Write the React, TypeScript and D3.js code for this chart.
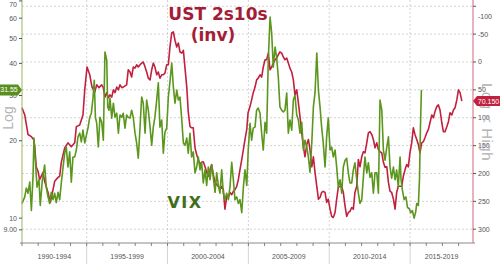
import React from 'react';
import * as d3 from 'd3';

// ---------------- DATA ----------------
// UST 2s10s spread (bp), plotted on an inverted right axis
const ust2s10s: [number, number][] = [
  [1991.00,82],[1991.17,95],[1991.37,130],[1991.58,134],[1991.72,139],[1991.79,152],[1991.88,188],[1991.99,196],[1992.09,211],[1992.30,198],[1992.40,214],[1992.61,234],[1992.75,252],[1992.92,229],[1993.02,214],[1993.23,207],[1993.33,205],[1993.43,180],[1993.64,154],[1993.84,145],[1994.05,152],[1994.26,145],[1994.36,116],[1994.57,113],[1994.77,95],[1994.88,50],[1995.02,9],[1995.19,23],[1995.33,45],[1995.50,54],
  [1995.62,41],[1995.76,46],[1995.93,41],[1996.03,46],[1996.13,63],[1996.24,55],[1996.34,64],[1996.44,59],[1996.55,63],[1996.65,50],[1996.75,55],[1996.86,45],[1996.96,50],[1997.06,41],[1997.17,46],[1997.26,45],[1997.47,41],[1997.57,14],[1997.68,18],[1997.78,27],[1997.88,9],[1997.99,11],[1998.09,5],[1998.19,9],[1998.30,5],[1998.40,2],[1998.50,0],[1998.61,9],[1998.71,18],[1998.81,29],[1998.92,32],[1999.02,14],[1999.12,2],[1999.22,9],[1999.33,23],[1999.43,18],[1999.53,29],[1999.64,23],[1999.74,23],[1999.84,20],[1999.95,5],[2000.05,5],[2000.15,-27],[2000.26,-52],[2000.36,-54],[2000.46,-39],
  [2000.57,-27],[2000.67,-34],[2000.77,-18],[2000.88,-16],[2000.98,-21],[2001.08,11],[2001.19,45],[2001.28,89],[2001.39,116],[2001.49,118],[2001.59,118],[2001.70,154],[2001.80,166],[2001.90,175],[2002.01,184],[2002.11,180],[2002.21,179],[2002.32,188],[2002.42,198],[2002.52,205],[2002.63,193],[2002.73,184],[2002.83,202],[2002.94,216],[2003.04,220],[2003.14,223],[2003.24,229],[2003.35,223],[2003.45,229],[2003.55,264],[2003.66,241],[2003.76,243],[2003.86,234],[2003.97,238],[2004.07,232],[2004.17,229],[2004.28,223],[2004.38,211],[2004.48,193],[2004.59,175],[2004.69,157],[2004.79,139],[2004.90,121],
  [2004.98,91],[2005.10,80],[2005.20,68],[2005.30,55],[2005.41,45],[2005.51,32],[2005.61,29],[2005.72,23],[2005.82,27],[2005.92,9],[2006.03,-4],[2006.13,-4],[2006.23,-16],[2006.34,14],[2006.44,9],[2006.54,2],[2006.65,-4],[2006.75,-7],[2006.85,-13],[2006.95,-18],[2007.06,-16],[2007.16,-9],[2007.26,-4],[2007.37,-7],[2007.47,2],[2007.57,11],[2007.68,18],[2007.78,32],[2007.88,59],[2007.99,50],[2008.09,73],[2008.19,98],[2008.30,127],[2008.40,152],[2008.50,170],[2008.61,148],[2008.71,139],[2008.81,157],[2008.92,188],[2009.02,170],[2009.12,198],[2009.23,223],[2009.33,246],[2009.43,243],[2009.53,234],[2009.63,232],[2009.74,234],
  [2009.84,252],[2009.94,246],[2010.05,264],[2010.15,277],[2010.25,279],[2010.36,270],[2010.46,246],[2010.56,225],[2010.67,223],[2010.77,223],[2010.87,234],[2010.98,259],[2011.08,277],[2011.18,270],[2011.28,268],[2011.39,261],[2011.49,264],[2011.59,234],[2011.70,223],[2011.80,175],[2011.90,188],[2012.01,170],[2012.11,161],[2012.21,163],[2012.32,145],[2012.42,127],[2012.52,125],[2012.63,130],[2012.73,139],[2012.83,154],[2012.94,145],[2013.04,157],[2013.14,161],[2013.25,163],[2013.35,180],[2013.45,189],[2013.56,188],[2013.66,216],[2013.76,232],[2013.86,234],[2013.97,246],[2014.07,264],[2014.17,234],[2014.27,223],
  [2014.38,223],[2014.48,223],[2014.58,205],[2014.69,193],[2014.79,184],[2014.89,188],[2014.99,163],[2015.10,145],[2015.20,118],[2015.30,130],[2015.41,139],[2015.51,148],[2015.61,163],[2015.72,145],[2015.82,143],[2015.92,136],[2016.03,127],[2016.13,121],[2016.23,109],[2016.34,95],[2016.44,100],[2016.54,89],[2016.65,80],[2016.75,77],[2016.85,86],[2016.96,109],[2017.06,125],[2017.16,125],[2017.27,116],[2017.37,107],[2017.47,91],[2017.58,95],[2017.68,86],[2017.78,82],[2017.89,68],[2017.99,50],[2018.09,55],[2018.20,70.15],
];

// VIX, plotted on the left log axis
const vix: [number, number][] = [
  [1991.00,11.4],[1991.17,12.1],[1991.27,13.1],[1991.37,12.5],[1991.48,13.8],[1991.58,10.7],[1991.68,14.4],[1991.74,20.5],[1991.85,15.8],[1991.93,13.2],[1992.05,14.1],[1992.13,11.2],[1992.26,14.1],[1992.40,16.1],[1992.50,13.2],[1992.61,12.1],[1992.71,11.4],[1992.81,12.6],[1992.92,11.8],[1993.02,12.5],[1993.12,11.5],[1993.23,12.6],[1993.33,11.8],[1993.43,13.7],[1993.54,15.8],[1993.64,17.9],[1993.74,18.9],[1993.84,15.8],[1993.95,18.1],[1994.05,13.8],[1994.15,17.3],[1994.26,17.3],[1994.36,18.4],[1994.46,20.7],[1994.57,21.4],[1994.67,19.8],[1994.77,22.0],[1994.88,19.6],[1994.98,21.0],[1995.08,22.4],[1995.19,24.7],[1995.29,25.6],[1995.39,29.3],[1995.47,34.4],[1995.54,24.7],[1995.62,23.4],[1995.72,18.9],[1995.82,24.7],[1995.93,23.6],[1996.03,20.1],[1996.13,44.3],[1996.24,41.2],[1996.30,27.1],[1996.38,26.3],[1996.44,29.3],[1996.55,24.5],[1996.65,28.0],[1996.75,24.7],[1996.86,25.6],[1996.96,21.4],[1997.06,25.2],[1997.17,24.7],[1997.26,25.6],[1997.37,22.4],[1997.47,25.2],[1997.57,24.7],[1997.68,24.5],[1997.78,26.3],[1997.88,24.7],[1997.99,21.4],[1998.09,19.6],[1998.19,17.1],[1998.30,22.6],[1998.40,29.6],[1998.50,28.0],[1998.61,21.4],[1998.71,28.8],[1998.81,26.3],[1998.92,22.6],[1999.02,19.2],[1999.12,22.6],[1999.22,24.7],[1999.33,28.8],[1999.43,33.6],[1999.53,22.6],[1999.64,24.1],[1999.74,17.9],[1999.84,21.6],[1999.95,22.4],[2000.05,29.6],[2000.15,33.9],[2000.26,40.1],[2000.36,32.4],[2000.46,28.0],
  [2000.57,31.5],[2000.67,28.8],[2000.77,29.6],[2000.88,24.1],[2000.98,19.6],[2001.08,19.2],[2001.19,20.5],[2001.28,17.9],[2001.39,21.4],[2001.49,17.3],[2001.59,18.1],[2001.70,15.0],[2001.80,15.8],[2001.90,17.3],[2002.01,15.4],[2002.11,16.5],[2002.21,13.7],[2002.32,15.4],[2002.42,13.4],[2002.52,15.8],[2002.63,14.1],[2002.73,16.1],[2002.83,14.4],[2002.94,12.6],[2003.04,15.0],[2003.14,13.4],[2003.24,12.5],[2003.35,15.4],[2003.45,12.5],[2003.55,11.8],[2003.66,12.5],[2003.76,11.8],[2003.86,13.2],[2003.97,16.5],[2004.07,14.1],[2004.17,11.8],[2004.28,12.1],[2004.38,11.4],[2004.48,11.8],[2004.59,10.5],[2004.69,13.2],[2004.79,15.4],[2004.90,13.4],[2004.99,18.4],
  [2005.10,23.4],[2005.20,20.1],[2005.30,22.4],[2005.41,22.6],[2005.51,26.3],[2005.61,26.8],[2005.72,25.6],[2005.82,21.4],[2005.92,18.4],[2006.03,23.6],[2006.13,21.4],[2006.23,41.2],[2006.34,60.6],[2006.44,52.5],[2006.54,38.7],[2006.65,46.3],[2006.75,42.0],[2006.85,35.4],[2006.95,27.1],[2007.06,26.3],[2007.16,25.9],[2007.26,26.3],[2007.37,30.7],[2007.47,21.4],[2007.57,24.1],[2007.68,22.0],[2007.78,28.8],[2007.88,30.1],[2007.99,25.2],[2008.09,24.1],[2008.19,21.4],[2008.30,23.6],[2008.40,18.4],[2008.50,20.1],[2008.61,18.9],[2008.71,17.3],[2008.81,15.1],[2008.92,19.6],[2009.02,27.1],[2009.12,30.7],[2009.23,43.9],[2009.33,31.5],[2009.43,27.1],[2009.53,22.6],[2009.63,19.6],[2009.74,15.8],
  [2009.84,20.7],[2009.94,24.5],[2010.05,18.4],[2010.15,18.9],[2010.25,17.3],[2010.36,18.4],[2010.46,15.8],[2010.56,13.2],[2010.67,14.1],[2010.77,12.5],[2010.87,15.8],[2010.98,16.8],[2011.08,17.1],[2011.18,15.0],[2011.28,13.7],[2011.39,13.7],[2011.49,15.4],[2011.59,16.4],[2011.70,14.1],[2011.80,12.5],[2011.90,11.4],[2012.01,11.8],[2012.11,14.4],[2012.21,17.3],[2012.32,15.0],[2012.42,16.4],[2012.52,14.4],[2012.63,15.0],[2012.73,12.5],[2012.83,15.0],[2012.94,15.0],[2013.04,12.5],[2013.14,28.8],[2013.25,26.3],[2013.35,18.4],[2013.45,16.8],[2013.56,18.9],[2013.66,20.7],[2013.76,15.8],[2013.86,14.3],[2013.97,15.8],[2014.07,14.1],[2014.17,15.4],[2014.27,13.2],
  [2014.38,17.3],[2014.44,14.1],[2014.52,12.9],[2014.63,11.8],[2014.74,12.1],[2014.84,11.0],[2014.94,10.9],[2015.04,10.5],[2015.14,10.7],[2015.25,10.0],[2015.35,10.6],[2015.41,11.4],[2015.51,11.2],[2015.58,14.1],[2015.64,22.6],[2015.70,31.55],
];

const leftTicks = [9, 10, 20, 30, 40, 50, 60, 70];
const leftTickLabels = ['9.00', '10', '20', '30', '40', '50', '60', '70'];
const rightTicks = [-100, -50, 0, 50, 100, 150, 200, 250, 300];
const binStarts = [1990, 1995, 2000, 2005, 2010, 2015];
const binLabels = ['1990-1994', '1995-1999', '2000-2004', '2005-2009', '2010-2014', '2015-2019'];
const yearTicks = d3.range(1991, 2019);
const xDomain = [1991.0, 2018.89];
const vixLastLabel = '31.55';
const ustLastLabel = '70.150';

// ---------------- STYLE ----------------
const PL = 22, PR = 473, PT = 0, PB = 243;
const RED = '#c1203f';
const RED_TEXT = '#a31d37';
const GREEN = '#5b961d';
const GREEN_TEXT = '#3f7018';
const TICK_FONT = 'Liberation Sans, Arial, sans-serif';
const TOP_LABEL_MIN = 4.5;

export default function App() {
  const x = d3.scaleLinear().domain(xDomain).range([PL, PR]);
  const yL = d3.scaleLog().domain([8, 70.6]).range([PB, PT]);
  const yR = d3.scaleLinear().domain([-111.2, 324.7]).range([PT, PB]);

  const ustLine = d3.line<[number, number]>().x(d => x(d[0])).y(d => yR(d[1]));
  const vixLine = d3.line<[number, number]>().x(d => x(d[0])).y(d => yL(d[1]));

  const vixLast = vix[vix.length - 1];
  const ustLast = ust2s10s[ust2s10s.length - 1];
  const yv = yL(vixLast[1]);
  const yu = yR(ustLast[1]);

  return (
    <svg width={500} height={264} style={{ position: 'absolute', left: 0, top: 0, background: '#fff' }}>
      <rect x={0} y={0} width={500} height={264} fill="#fff" />
      {/* horizontal gridlines */}
      {rightTicks.map(t => (
        <line key={'g' + t} x1={PL} x2={PR} y1={yR(t)} y2={yR(t)} stroke="#c8c8c8" strokeWidth={0.8} strokeDasharray="2,2" />
      ))}
      {/* vertical gridlines / separators */}
      {binStarts.slice(1).map(b => (
        <g key={'v' + b}>
          <line x1={x(b)} x2={x(b)} y1={PT} y2={PB} stroke="#c8c8c8" strokeWidth={0.8} strokeDasharray="2,2" />
          <line x1={x(b)} x2={x(b)} y1={PB} y2={264} stroke="#d4d4d4" strokeWidth={1} />
        </g>
      ))}

      {/* series */}
      <path d={ustLine(ust2s10s) || ''} fill="none" stroke={RED} strokeWidth={1.6} strokeLinejoin="round" />
      <path d={vixLine(vix) || ''} fill="none" stroke={GREEN} strokeWidth={1.6} strokeLinejoin="round" />

      {/* axes lines */}
      <line x1={PL} x2={PL} y1={PT} y2={PB} stroke="#9db45e" strokeWidth={1} />
      <line x1={PR} x2={PR} y1={PT} y2={PB} stroke="#d2647e" strokeWidth={1} />
      <line x1={PL - 2} x2={PR + 2} y1={PB} y2={PB} stroke="#8a8a8a" strokeWidth={1} />

      {/* left ticks */}
      {leftTicks.map((t, i) => (
        <g key={'lt' + t}>
          <line x1={PL - 3} x2={PL} y1={yL(t)} y2={yL(t)} stroke="#555" strokeWidth={1} />
          <text x={PL - 5} y={Math.max(yL(t), TOP_LABEL_MIN)} dy="0.35em" textAnchor="end" fontSize={7} fontFamily={TICK_FONT} fill="#555">{leftTickLabels[i]}</text>
        </g>
      ))}
      {/* right ticks */}
      {rightTicks.map((t, i) => (
        <g key={'rt' + t}>
          <line x1={PR} x2={PR + 3} y1={yR(t)} y2={yR(t)} stroke="#555" strokeWidth={1} />
          <text x={PR + 5} y={i === 0 ? yR(t) + 10 : yR(t)} dy="0.35em" textAnchor="start" fontSize={7} fontFamily={TICK_FONT} fill="#555">{String(t)}</text>
        </g>
      ))}
      {/* x ticks */}
      {yearTicks.map(yy => (
        <line key={'xt' + yy} x1={x(yy)} x2={x(yy)} y1={PB} y2={PB + 3} stroke="#666" strokeWidth={0.8} />
      ))}
      {binStarts.map((b, i) => {
        const a = Math.max(x(b), PL);
        const e = Math.min(x(b + 5), PR);
        return (
          <text key={'bl' + b} x={(a + e) / 2} y={259} textAnchor="middle" fontSize={7} fontFamily={TICK_FONT} fill="#555">{binLabels[i]}</text>
        );
      })}

      {/* axis titles */}
      <text transform="translate(13,118) rotate(-90)" textAnchor="middle" fontSize={14} fontFamily={TICK_FONT} fill="#b4b4b4">Log</text>
      <text transform="translate(482,122) rotate(90)" textAnchor="middle" fontSize={15} letterSpacing={0.5} fontFamily={TICK_FONT} fill="#b4b4b4">Log &lt; High</text>

      {/* last value badges */}
      <path d={`M0,${yv - 5.5} L18,${yv - 5.5} L${PL},${yv} L18,${yv + 5.5} L0,${yv + 5.5} Z`} fill="#5a8f1e" />
      <text x={9} y={yv} dy="0.35em" textAnchor="middle" fontSize={7} fontFamily={TICK_FONT} fill="#fff">{vixLastLabel}</text>
      <path d={`M${PR},${yu} L477,${yu - 5} L500,${yu - 5} L500,${yu + 5} L477,${yu + 5} Z`} fill={RED} />
      <text x={488.5} y={yu} dy="0.35em" textAnchor="middle" fontSize={7} fontFamily={TICK_FONT} fill="#fff">{ustLastLabel}</text>

      {/* annotations */}
      <text x={218} y={20} textAnchor="middle" fontSize={17} fontWeight="bold" fontFamily="DejaVu Sans, Verdana, sans-serif" fill={RED_TEXT}>UST 2s10s</text>
      <text x={213} y={41} textAnchor="middle" fontSize={17} fontWeight="bold" fontFamily="DejaVu Sans, Verdana, sans-serif" fill={RED_TEXT}>(inv)</text>
      <text x={185} y={208} textAnchor="middle" fontSize={16} fontWeight="bold" letterSpacing={1.5} fontFamily="DejaVu Sans, Verdana, sans-serif" fill={GREEN_TEXT}>VIX</text>
    </svg>
  );
}
